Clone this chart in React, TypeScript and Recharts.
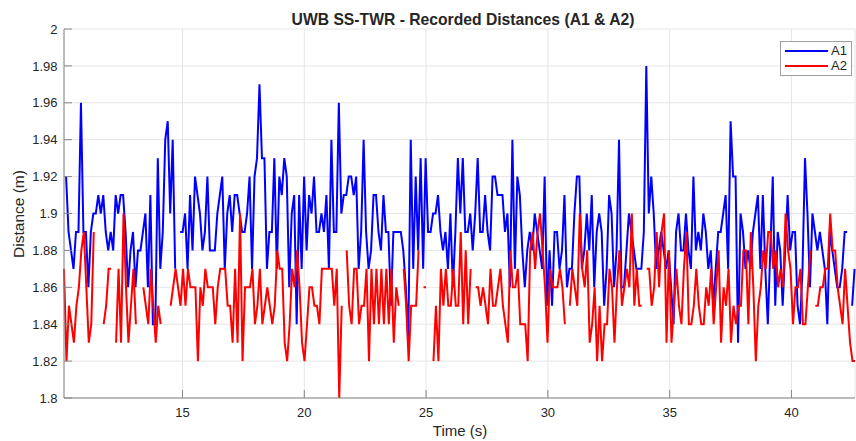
import React from 'react';
import { LineChart, Line, XAxis, YAxis, CartesianGrid } from 'recharts';

// distances, one sample every ~0.1 s, null = dropped sample
const a1Values = [
  1.92, 1.89, 1.88, 1.87, 1.89, 1.89, 1.96, 1.89, 1.89, 1.86,
  1.89, 1.90, 1.90, 1.91, 1.90, 1.91, 1.89, 1.88, 1.89, 1.88,
  1.91, 1.90, 1.91, 1.91, 1.89, 1.86, 1.88, 1.89, 1.86, 1.88,
  1.88, 1.89, 1.90, 1.86, 1.91, 1.84, 1.84, 1.93, 1.87, 1.89,
  1.94, 1.95, 1.90, 1.94, 1.87, null, 1.89, 1.89, 1.90, 1.87,
  1.91, 1.88, 1.92, 1.91, 1.90, 1.88, 1.89, 1.92, 1.88, 1.88,
  1.88, 1.90, 1.91, 1.92, 1.87, 1.90, 1.91, 1.89, 1.91, 1.91,
  1.90, 1.89, 1.89, 1.90, 1.92, 1.87, 1.92, 1.93, 1.97, 1.93,
  1.93, 1.87, 1.89, 1.89, 1.93, 1.87, 1.92, 1.91, 1.93, 1.92,
  1.86, 1.90, 1.91, 1.84, 1.91, 1.87, 1.92, 1.88, 1.91, 1.90,
  1.92, 1.89, 1.89, 1.90, 1.89, 1.91, 1.87, 1.94, 1.89, 1.89,
  1.96, 1.90, 1.91, 1.91, 1.92, 1.92, 1.91, 1.92, 1.87, 1.89,
  1.94, 1.89, 1.87, 1.88, 1.91, 1.91, 1.89, 1.88, 1.91, 1.89,
  1.89, 1.85, 1.89, 1.89, 1.89, 1.89, 1.88, 1.86, 1.83, 1.94,
  1.87, 1.92, 1.88, 1.93, 1.87, 1.93, 1.89, 1.89, 1.90, 1.90,
  1.91, 1.89, 1.88, 1.89, 1.87, 1.90, 1.86, 1.89, 1.93, 1.90,
  1.93, 1.89, 1.89, 1.90, 1.88, 1.90, 1.93, 1.89, 1.89, 1.91,
  1.89, 1.88, 1.92, 1.92, 1.91, 1.91, 1.91, 1.89, 1.90, 1.86,
  1.94, 1.87, 1.92, 1.91, 1.88, 1.86, 1.88, 1.89, 1.88, 1.90,
  1.89, 1.88, 1.87, 1.92, 1.85, 1.88, 1.85, 1.89, 1.89, 1.87,
  1.88, 1.91, 1.86, 1.87, 1.87, 1.90, 1.92, 1.92, 1.87, 1.88,
  1.90, 1.88, 1.91, 1.86, 1.89, 1.90, 1.89, 1.85, 1.87, 1.91,
  1.90, 1.86, 1.88, 1.94, 1.86, 1.86, 1.88, 1.90, 1.89, 1.88,
  1.87, 1.87, 1.87, 1.89, 1.98, 1.90, 1.92, 1.90, 1.87, 1.88,
  1.89, 1.88, 1.87, 1.88, 1.86, 1.84, 1.89, 1.90, 1.88, 1.88,
  1.90, 1.88, 1.87, 1.92, 1.88, 1.89, 1.88, 1.90, 1.89, 1.87,
  1.88, 1.85, 1.87, 1.89, 1.89, 1.90, 1.91, 1.87, 1.95, 1.92,
  1.92, 1.83, 1.90, 1.89, 1.87, 1.88, 1.87, 1.89, 1.90, 1.91,
  1.87, 1.91, 1.87, 1.84, 1.88, 1.92, 1.85, 1.89, 1.88, 1.85,
  1.88, 1.91, 1.88, 1.89, 1.89, 1.85, 1.84, 1.87, 1.93, 1.90,
  1.86, 1.90, 1.89, 1.88, 1.89, 1.88, 1.87, 1.84, 1.89, 1.88,
  1.87, 1.86, 1.86, 1.87, 1.89, 1.89, null, 1.85, 1.87,
];

const a2Values = [
  1.87, 1.82, 1.85, 1.84, 1.83, 1.85, 1.86, 1.88, 1.89, 1.86,
  1.83, 1.84, 1.89, null, null, null, 1.84, 1.85, 1.87, 1.87,
  null, 1.83, 1.87, 1.83, 1.90, 1.86, 1.83, 1.85, 1.87, 1.84,
  null, null, 1.86, 1.85, 1.84, 1.87, 1.85, 1.83, 1.85, 1.84,
  null, null, null, 1.85, 1.86, 1.87, 1.86, 1.85, 1.87, 1.85,
  1.87, 1.86, 1.86, 1.86, 1.82, 1.86, 1.85, 1.87, 1.86, 1.86,
  1.86, 1.84, 1.86, 1.87, 1.87, 1.87, 1.85, 1.85, 1.83, 1.87,
  1.83, 1.90, 1.82, 1.86, 1.86, 1.86, 1.87, 1.84, 1.85, 1.87,
  1.84, 1.85, 1.86, 1.85, 1.84, 1.85, 1.88, 1.87, 1.87, 1.83,
  1.82, 1.84, 1.87, 1.86, 1.88, 1.86, 1.83, 1.82, 1.84, 1.86,
  1.86, 1.85, 1.85, 1.84, 1.87, 1.87, 1.87, 1.87, 1.87, 1.85,
  1.87, 1.80, 1.85, null, 1.88, 1.85, 1.84, 1.87, 1.87, 1.84,
  1.85, 1.85, 1.87, 1.82, 1.87, 1.84, 1.87, 1.84, 1.87, 1.84,
  1.87, 1.84, 1.87, 1.83, 1.86, 1.85, null, 1.87, 1.85, 1.82,
  1.85, 1.85, 1.85, 1.88, null, 1.86, 1.86, null, null, 1.82,
  1.85, 1.82, 1.87, 1.85, 1.87, 1.85, 1.85, 1.87, 1.85, 1.85,
  1.89, 1.84, 1.88, 1.84, 1.87, null, 1.86, 1.86, 1.85, 1.86,
  1.85, 1.84, 1.87, 1.85, 1.85, 1.86, 1.87, 1.85, 1.84, 1.83,
  1.88, 1.86, 1.86, 1.87, 1.84, 1.84, 1.84, 1.82, 1.88, 1.89,
  1.87, 1.89, 1.90, 1.88, 1.86, 1.83, 1.87, 1.86, 1.86, 1.86,
  1.87, 1.86, 1.84, null, 1.85, 1.87, 1.86, 1.85, 1.90, 1.87,
  1.86, 1.88, 1.83, 1.84, 1.86, 1.82, 1.85, 1.82, 1.84, 1.84,
  1.87, 1.86, 1.83, 1.86, 1.88, 1.85, 1.86, 1.87, 1.86, 1.90,
  1.85, 1.87, 1.85, 1.85, null, 1.87, 1.87, 1.85, 1.86, 1.89,
  1.86, 1.89, 1.90, 1.83, 1.88, 1.83, 1.85, 1.87, 1.85, 1.84,
  1.87, 1.89, 1.84, 1.84, 1.85, 1.87, 1.85, 1.84, 1.84, 1.86,
  1.85, 1.87, 1.84, 1.86, 1.88, 1.83, 1.86, 1.85, 1.87, 1.83,
  1.85, 1.84, 1.85, 1.85, 1.88, 1.88, 1.84, 1.89, 1.86, 1.82,
  1.85, 1.86, 1.88, 1.87, 1.89, 1.89, 1.87, 1.88, 1.86, 1.87,
  1.86, 1.90, 1.88, 1.87, 1.84, 1.86, 1.86, 1.87, 1.84, 1.84,
  1.86, 1.88, null, 1.85, 1.85, 1.86, 1.86, 1.87, 1.87, 1.90,
  1.88, 1.88, 1.86, 1.85, 1.84, 1.87, 1.85, 1.83, 1.82, 1.82,
];

// recording timestamps (s)
const A1_START = 10.22;
const A2_START = 10.135;
const SAMPLE_STEP = 0.1018;

const xTicks = [15, 20, 25, 30, 35, 40];
const yTicks = [1.8, 1.82, 1.84, 1.86, 1.88, 1.9, 1.92, 1.94, 1.96, 1.98, 2];

const toSeries = (values: (number | null)[], start: number) =>
  values.map((d, i) => ({ t: start + i * SAMPLE_STEP, d }));

const a1Data = toSeries(a1Values, A1_START);
const a2Data = toSeries(a2Values, A2_START);
const tEnd = A2_START + (a2Values.length - 1) * SAMPLE_STEP;

const FONT = '"Liberation Sans", Arial, Helvetica, sans-serif';
const AXIS_COLOR = '#868686';
const TEXT_COLOR = '#262626';

export default function App() {
  return (
    <div style={{ position: 'absolute', left: 0, top: 0, width: 856, height: 441, background: '#fff', fontFamily: FONT }}>
      <LineChart width={856} height={441} margin={{ top: 29, right: 1, bottom: 0, left: 0 }}>
        <CartesianGrid stroke="#e6e6e6" strokeWidth={1} />
        <XAxis
          dataKey="t"
          type="number"
          domain={[A2_START, tEnd]}
          ticks={xTicks}
          interval={0}
          height={43}
          tickSize={-8}
          tickMargin={17.5}
          axisLine={{ stroke: AXIS_COLOR }}
          tickLine={{ stroke: AXIS_COLOR }}
          tick={{ fill: TEXT_COLOR, fontSize: 13, fontFamily: FONT }}
        />
        <YAxis
          type="number"
          domain={[1.8, 2]}
          ticks={yTicks}
          interval={0}
          width={64}
          tickSize={-8}
          tickMargin={14.5}
          axisLine={{ stroke: AXIS_COLOR }}
          tickLine={{ stroke: AXIS_COLOR }}
          tickFormatter={(v: number) => String(Number(v.toFixed(2)))}
          tick={{ fill: TEXT_COLOR, fontSize: 13, fontFamily: FONT }}
        />
        <Line
          data={a1Data}
          dataKey="d"
          name="A1"
          type="linear"
          stroke="#0000ff"
          strokeWidth={2}
          dot={false}
          activeDot={false}
          connectNulls={false}
          isAnimationActive={false}
        />
        <Line
          data={a2Data}
          dataKey="d"
          name="A2"
          type="linear"
          stroke="#ff0000"
          strokeWidth={2}
          dot={false}
          activeDot={false}
          connectNulls={false}
          isAnimationActive={false}
        />
      </LineChart>

      <svg width={856} height={441} style={{ position: 'absolute', left: 0, top: 0, pointerEvents: 'none' }}>
        <text x={463} y={25} textAnchor="middle" fontSize={15.7} fontWeight="bold" fill={TEXT_COLOR} fontFamily={FONT}>
          UWB SS-TWR - Recorded Distances (A1 &amp; A2)
        </text>
        <text x={460} y={436} textAnchor="middle" fontSize={15} fill={TEXT_COLOR} fontFamily={FONT}>
          Time (s)
        </text>
        <text
          x={0}
          y={0}
          transform="translate(23.5 214) rotate(-90)"
          textAnchor="middle"
          fontSize={15.5}
          fill={TEXT_COLOR}
          fontFamily={FONT}
        >
          Distance (m)
        </text>
      </svg>

      <div
        style={{
          position: 'absolute',
          left: 780,
          top: 41,
          width: 70,
          height: 32,
          border: '1px solid #a0a0a0',
          background: '#fff',
          fontSize: 13,
          color: TEXT_COLOR,
          lineHeight: '15px',
          paddingTop: 1,
        }}
      >
        {[
          { name: 'A1', color: '#0000ff' },
          { name: 'A2', color: '#ff0000' },
        ].map((s) => (
          <div key={s.name} style={{ display: 'flex', alignItems: 'center', height: 15 }}>
            <svg width={50} height={15} style={{ display: 'block' }}>
              <line x1={4} y1={8} x2={47} y2={8} stroke={s.color} strokeWidth={2} />
            </svg>
            <span>{s.name}</span>
          </div>
        ))}
      </div>
    </div>
  );
}
